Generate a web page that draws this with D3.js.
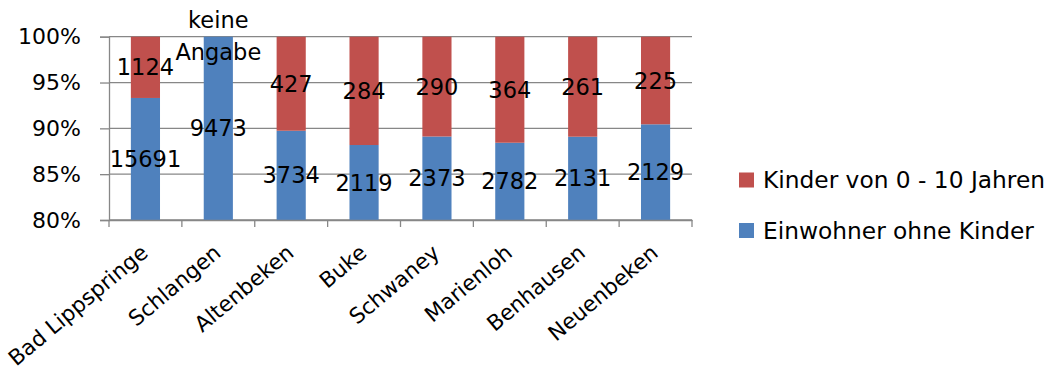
<!DOCTYPE html>
<html><head><meta charset="utf-8">
<script src="https://cdn.jsdelivr.net/npm/d3@7"></script>
<style>
body{margin:0;background:#fff;}
text{font-family:"DejaVu Sans",sans-serif;fill:#000;}
</style></head>
<body>
<svg id="chart" width="1048" height="377"></svg>
<script>
const categories = ["Bad Lippspringe","Schlangen","Altenbeken","Buke","Schwaney","Marienloh","Benhausen","Neuenbeken"];
const einwohnerOhneKinder = [15691, 9473, 3734, 2119, 2373, 2782, 2131, 2129];
const kinder0bis10 = [1124, null, 427, 284, 290, 364, 261, 225];
const missingLabel = ["keine", "Angabe"];
const yTicks = [0.8, 0.85, 0.9, 0.95, 1.0];
const seriesNames = ["Kinder von 0 - 10 Jahren", "Einwohner ohne Kinder"];
const colors = {blue:"#4F81BD", red:"#C0504D"};

(function(){
const svg = d3.select("#chart");
const pLeft = 109, pRight = 692, pTop = 36.7, pBottom = 220;
const x = d3.scaleBand().domain(categories).range([pLeft, pRight]).paddingInner(0.6).paddingOuter(0.3);
const y = d3.scaleLinear().domain([0.8, 1.0]).range([pBottom, pTop]).clamp(true);

// gridlines
svg.append("g").selectAll("line").data(yTicks).join("line")
  .attr("x1", pLeft).attr("x2", pRight)
  .attr("y1", d => y(d)).attr("y2", d => y(d))
  .attr("stroke", "#878787").attr("stroke-width", 1.3);

const rows = categories.map((c, i) => {
  const k = kinder0bis10[i] || 0;
  const total = einwohnerOhneKinder[i] + k;
  return {c, e: einwohnerOhneKinder[i], k: kinder0bis10[i], share: einwohnerOhneKinder[i] / total};
});

// blue bars
svg.append("g").selectAll("rect").data(rows).join("rect")
  .attr("x", d => x(d.c)).attr("width", x.bandwidth())
  .attr("y", d => y(d.share)).attr("height", d => y(0.8) - y(d.share))
  .attr("fill", colors.blue);
// red bars
svg.append("g").selectAll("rect").data(rows.filter(d => d.k)).join("rect")
  .attr("x", d => x(d.c)).attr("width", x.bandwidth())
  .attr("y", y(1.0)).attr("height", d => y(d.share) - y(1.0))
  .attr("fill", colors.red);

// axes
const yAxis = d3.axisLeft(y).tickValues(yTicks).tickFormat(d3.format(".0%")).tickSize(9).tickPadding(19);
const gy = svg.append("g").attr("transform", `translate(${pLeft},0)`).call(yAxis);
gy.select(".domain").attr("stroke", "#878787").attr("stroke-width", 1.3);
gy.selectAll(".tick line").attr("stroke", "#878787").attr("stroke-width", 1.3);
gy.selectAll("text").attr("font-size", 22).attr("font-family", "DejaVu Sans").attr("fill", "#000");

const xAxis = d3.axisBottom(x).tickSize(0).tickFormat(d => d);
const gx = svg.append("g").attr("transform", `translate(0,${pBottom})`).call(xAxis);
gx.select(".domain").attr("stroke", "#878787").attr("stroke-width", 1.3);
gx.selectAll("text")
  .attr("font-size", 21.5).attr("font-family", "DejaVu Sans").attr("fill", "#000")
  .attr("text-anchor", "end")
  .attr("y", 0).attr("dy", 0)
  .attr("transform", "translate(4,35) rotate(-40)");
// category boundary ticks
const bounds = d3.range(categories.length + 1).map(i => pLeft + i * x.step());
svg.append("g").selectAll("line").data(bounds).join("line")
  .attr("x1", d => d).attr("x2", d => d).attr("y1", pBottom).attr("y2", pBottom + 7)
  .attr("stroke", "#878787").attr("stroke-width", 1.3);

// data labels
const lbl = svg.append("g").attr("font-size", 22.5).attr("text-anchor", "middle");
lbl.selectAll("text.b").data(rows).join("text").attr("class","b")
  .attr("x", d => x(d.c) + x.bandwidth()/2)
  .attr("y", d => (y(d.share) + y(0.8)) / 2).attr("dy", "0.36em")
  .text(d => d.e);
lbl.selectAll("text.r").data(rows.filter(d => d.k)).join("text").attr("class","r")
  .attr("x", d => x(d.c) + x.bandwidth()/2)
  .attr("y", d => (y(d.share) + y(1.0)) / 2).attr("dy", "0.36em")
  .text(d => d.k);
rows.filter(d => !d.k).forEach(d => {
  const t = lbl.append("text").attr("x", x(d.c) + x.bandwidth()/2).attr("y", y(1.0));
  missingLabel.forEach((s, j) => {
    t.append("tspan").attr("x", x(d.c) + x.bandwidth()/2)
      .attr("dy", j === 0 ? "-0.38em" : "1.42em").text(s);
  });
});

// legend
const legend = svg.append("g");
const legendItems = [{n: seriesNames[0], c: colors.red, y: 180}, {n: seriesNames[1], c: colors.blue, y: 230.5}];
legendItems.forEach(it => {
  legend.append("rect").attr("x", 739).attr("y", it.y - 7.5).attr("width", 15).attr("height", 15).attr("fill", it.c);
  legend.append("text").attr("x", 763).attr("y", it.y).attr("dy", "0.36em").attr("font-size", 23.3).text(it.n);
});
})();
</script>
</body></html>
